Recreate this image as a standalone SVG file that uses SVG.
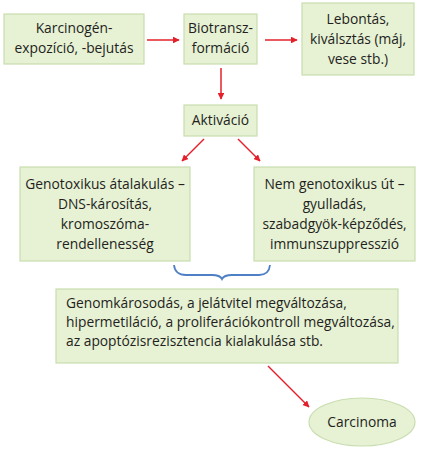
<svg xmlns="http://www.w3.org/2000/svg" width="426" height="450" viewBox="0 0 426 450">
<defs>
<style>
.box{fill:#e7f1d4;stroke:#c9deb0;stroke-width:1.2}
.t{font-family:"Open Sans","Liberation Sans",sans-serif;font-size:13.8px;fill:#231f20;text-anchor:middle}
.tl{text-anchor:start}
.a{stroke:#e3202b;stroke-width:1.5;fill:none;marker-end:url(#ah)}
</style>
<marker id="ah" viewBox="0 0 10 10" refX="9" refY="5" markerWidth="4.5" markerHeight="4.5" orient="auto" markerUnits="strokeWidth">
<path d="M0,0 L10,5 L0,10 Z" fill="#e3202b"/>
</marker>
</defs>
<rect width="426" height="450" fill="#fff"/>
<g id="connectors">
<line class="a" x1="147" y1="40" x2="179" y2="40"/>
<line class="a" x1="265" y1="40" x2="297" y2="40"/>
<line class="a" x1="221" y1="68" x2="221" y2="99"/>
<line class="a" x1="204" y1="139" x2="182" y2="161"/>
<line class="a" x1="238" y1="139" x2="260" y2="161"/>
<line class="a" x1="268" y1="366" x2="309" y2="407"/>
<path d="M174,265 Q175,275 186,275 L212,275 Q220,275 222,279 Q224,275 232,275 L259,275 Q269,275 270,265" fill="none" stroke="#4f7fc4" stroke-width="1.8"/>
</g>
<g id="n1">
<rect class="box" x="4" y="14" width="140" height="50"/>
<text class="t" x="74" y="33">Karcinogén-</text>
<text class="t" x="74" y="53">expozíció, -bejutás</text>
</g>
<g id="n2">
<rect class="box" x="184" y="14" width="73" height="50"/>
<text class="t" x="220.5" y="33">Biotransz-</text>
<text class="t" x="220.5" y="53">formáció</text>
</g>
<g id="n3">
<rect class="box" x="302" y="3" width="112" height="72"/>
<text class="t" x="358" y="24">Lebontás,</text>
<text class="t" x="358" y="44">kiválsztás (máj,</text>
<text class="t" x="358" y="64">vese stb.)</text>
</g>
<g id="n4">
<rect class="box" x="184" y="105" width="73" height="31"/>
<text class="t" x="220.5" y="125">Aktiváció</text>
</g>
<g id="n5">
<rect class="box" x="20" y="167" width="170" height="94"/>
<text class="t" x="105" y="189">Genotoxikus átalakulás –</text>
<text class="t" x="105" y="209">DNS-károsítás,</text>
<text class="t" x="105" y="229">kromoszóma-</text>
<text class="t" x="105" y="249">rendellenesség</text>
</g>
<g id="n6">
<rect class="box" x="254" y="167" width="161" height="94"/>
<text class="t" x="334.5" y="189">Nem genotoxikus út –</text>
<text class="t" x="334.5" y="209">gyulladás,</text>
<text class="t" x="334.5" y="229">szabadgyök-képződés,</text>
<text class="t" x="334.5" y="249">immunszuppresszió</text>
</g>
<g id="n7">
<rect class="box" x="56" y="289" width="342" height="74"/>
<text class="t tl" x="66" y="308">Genomkárosodás, a jelátvitel megváltozása,</text>
<text class="t tl" x="66" y="327">hipermetiláció, a proliferációkontroll megváltozása,</text>
<text class="t tl" x="66" y="346">az apoptózisrezisztencia kialakulása stb.</text>
</g>
<g id="n8">
<ellipse class="box" cx="362" cy="422" rx="53" ry="24"/>
<text class="t" x="362" y="427">Carcinoma</text>
</g>
</svg>
